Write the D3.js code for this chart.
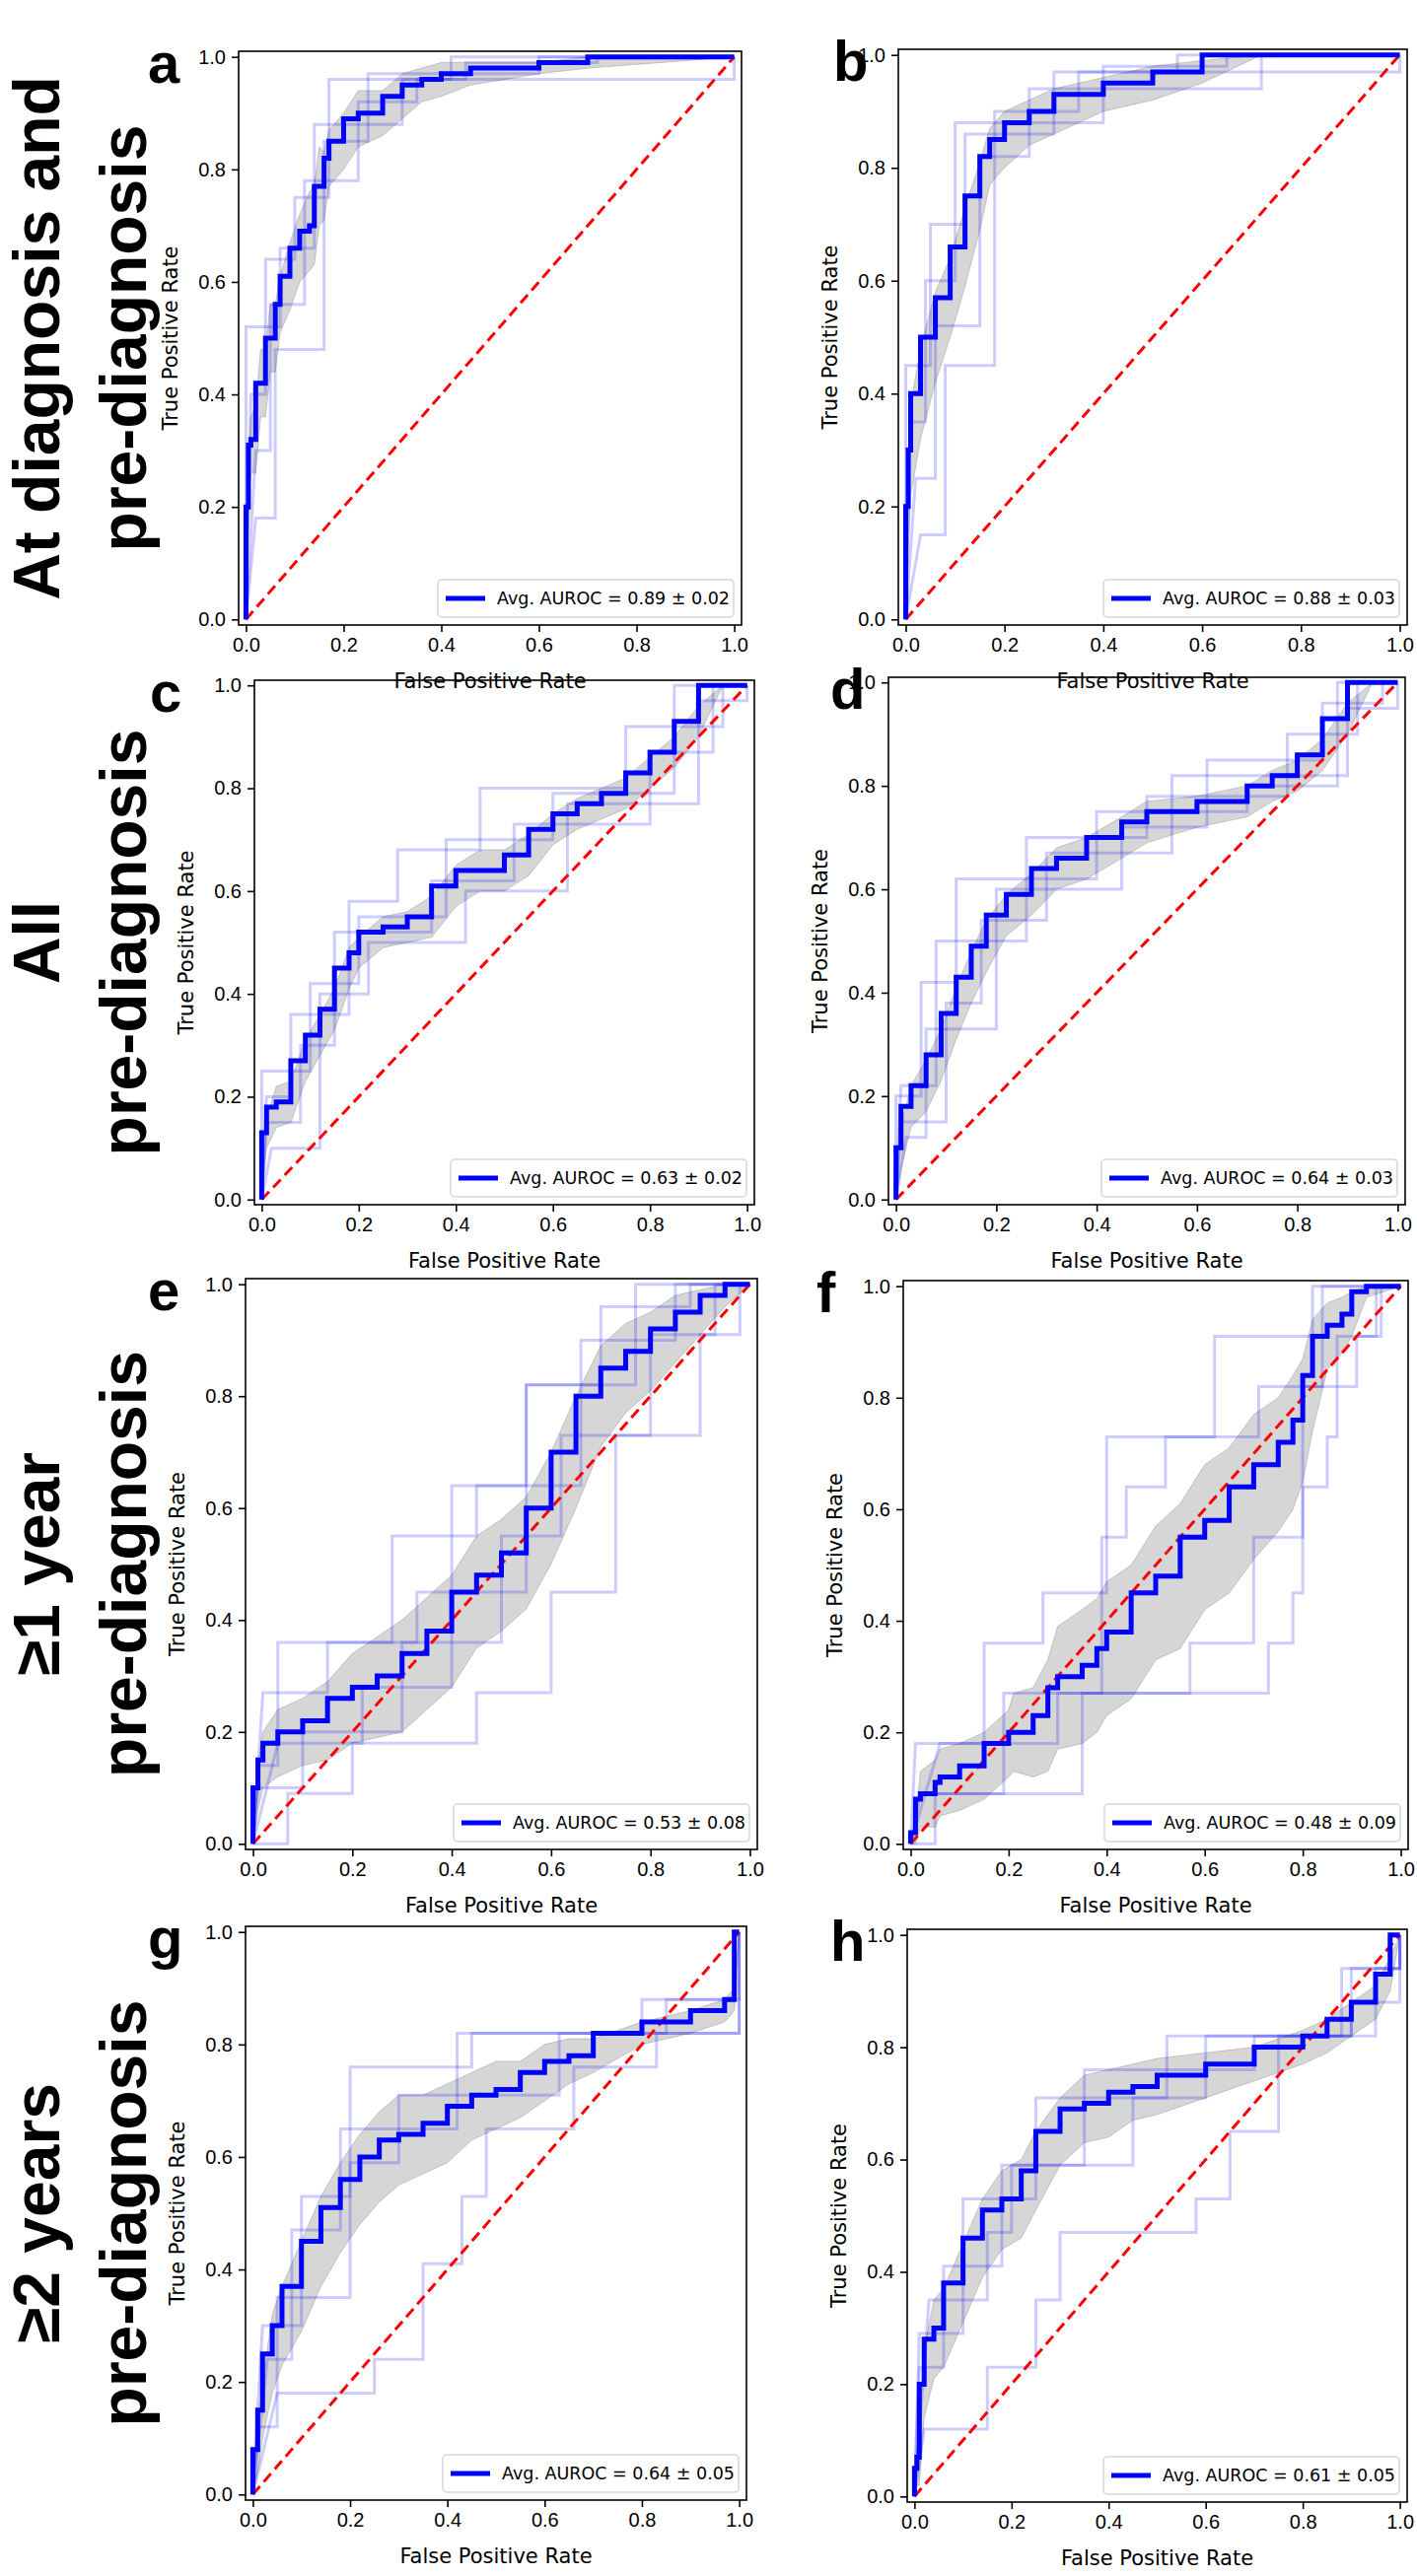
<!DOCTYPE html>
<html><head><meta charset="utf-8">
<script src="https://cdn.jsdelivr.net/npm/d3@7"></script>
<style>body{margin:0;background:#fff}svg{font-family:"DejaVu Sans",sans-serif}</style>
</head><body>
<svg id="fig" width="1437" height="2613"></svg>
<script>
// panel ids, legend texts
var panelIds = ["a","b","c","d","e","f","g","h"];
var aurocText = ["0.89 \u00b1 0.02","0.88 \u00b1 0.03","0.63 \u00b1 0.02","0.64 \u00b1 0.03",
                 "0.53 \u00b1 0.08","0.48 \u00b1 0.09","0.64 \u00b1 0.05","0.61 \u00b1 0.05"];
var rowLabels = [["At diagnosis and","pre-diagnosis"],["All","pre-diagnosis"],
                 ["\u22651 year","pre-diagnosis"],["\u22652 years","pre-diagnosis"]];
var ticks = [0,0.2,0.4,0.6,0.8,1.0];

// mean ROC: [fpr, tpr, sd]
var meanA = [[0,0,0],[0.005,0.2,0.05],[0.01,0.31,0.05],[0.02,0.32,0.06],[0.03,0.42,0.06],[0.04,0.42,0.06],[0.05,0.5,0.06],[0.06,0.5,0.06],[0.07,0.56,0.05],[0.09,0.61,0.06],[0.11,0.66,0.06],[0.13,0.69,0.07],[0.14,0.7,0.07],[0.15,0.77,0.07],[0.16,0.77,0.06],[0.17,0.82,0.05],[0.2,0.85,0.05],[0.23,0.89,0.05],[0.28,0.9,0.04],[0.32,0.93,0.04],[0.36,0.95,0.03],[0.4,0.96,0.03],[0.46,0.97,0.02],[0.6,0.98,0.01],[0.7,0.99,0.01],[0.85,1,0.01],[1,1,0]];
var meanB = [[0,0,0],[0.005,0.2,0.08],[0.01,0.3,0.08],[0.03,0.4,0.08],[0.06,0.5,0.08],[0.09,0.57,0.07],[0.12,0.66,0.07],[0.15,0.75,0.06],[0.17,0.82,0.05],[0.2,0.85,0.05],[0.25,0.88,0.04],[0.3,0.9,0.04],[0.4,0.93,0.03],[0.5,0.95,0.03],[0.6,0.97,0.02],[0.72,1,0],[1,1,0]];
var meanC = [[0,0,0],[0.01,0.13,0.03],[0.03,0.18,0.04],[0.06,0.19,0.04],[0.09,0.27,0.04],[0.12,0.32,0.04],[0.15,0.37,0.04],[0.18,0.45,0.04],[0.2,0.48,0.03],[0.25,0.52,0.03],[0.3,0.53,0.03],[0.35,0.55,0.04],[0.4,0.61,0.04],[0.45,0.64,0.04],[0.5,0.64,0.04],[0.55,0.67,0.04],[0.6,0.72,0.03],[0.65,0.75,0.03],[0.7,0.77,0.03],[0.75,0.79,0.03],[0.8,0.83,0.03],[0.85,0.87,0.03],[0.9,0.93,0.03],[0.95,1,0],[1,1,0]];
var meanD = [[0,0,0],[0.01,0.1,0.04],[0.03,0.18,0.04],[0.06,0.22,0.05],[0.09,0.28,0.05],[0.12,0.36,0.05],[0.15,0.43,0.05],[0.18,0.49,0.05],[0.22,0.55,0.04],[0.27,0.59,0.04],[0.32,0.64,0.04],[0.38,0.66,0.04],[0.45,0.7,0.04],[0.5,0.73,0.04],[0.6,0.75,0.03],[0.7,0.77,0.03],[0.75,0.8,0.03],[0.8,0.82,0.03],[0.85,0.86,0.03],[0.9,0.93,0.03],[0.95,1,0],[1,1,0]];
var meanE = [[0,0,0],[0.01,0.1,0.04],[0.02,0.15,0.05],[0.05,0.18,0.06],[0.1,0.2,0.06],[0.15,0.22,0.07],[0.2,0.26,0.08],[0.25,0.28,0.09],[0.3,0.3,0.1],[0.35,0.34,0.1],[0.4,0.38,0.1],[0.45,0.45,0.1],[0.5,0.48,0.1],[0.55,0.52,0.1],[0.6,0.6,0.1],[0.65,0.7,0.1],[0.7,0.8,0.09],[0.75,0.85,0.08],[0.8,0.88,0.07],[0.85,0.92,0.06],[0.9,0.95,0.04],[0.95,0.98,0.02],[1,1,0]];
var meanF = [[0,0,0],[0.01,0.02,0.02],[0.02,0.08,0.05],[0.05,0.09,0.06],[0.06,0.11,0.06],[0.1,0.12,0.06],[0.15,0.14,0.06],[0.2,0.18,0.06],[0.21,0.2,0.07],[0.25,0.2,0.08],[0.28,0.23,0.1],[0.3,0.28,0.11],[0.35,0.3,0.12],[0.38,0.32,0.12],[0.4,0.35,0.12],[0.45,0.38,0.12],[0.5,0.45,0.12],[0.55,0.48,0.13],[0.6,0.55,0.13],[0.65,0.58,0.13],[0.7,0.64,0.13],[0.75,0.68,0.12],[0.78,0.72,0.12],[0.8,0.76,0.11],[0.82,0.84,0.1],[0.85,0.91,0.06],[0.88,0.93,0.05],[0.9,0.95,0.04],[0.93,0.99,0.01],[1,1,0]];
var meanG = [[0,0,0],[0.01,0.08,0.04],[0.02,0.15,0.05],[0.04,0.25,0.07],[0.06,0.3,0.07],[0.1,0.37,0.08],[0.14,0.45,0.08],[0.18,0.51,0.08],[0.22,0.56,0.08],[0.26,0.6,0.08],[0.3,0.63,0.08],[0.35,0.64,0.07],[0.4,0.66,0.07],[0.45,0.69,0.06],[0.5,0.71,0.06],[0.55,0.72,0.05],[0.6,0.75,0.05],[0.65,0.77,0.04],[0.7,0.78,0.03],[0.8,0.82,0.02],[0.9,0.84,0.02],[0.97,0.86,0.02],[0.99,0.88,0.02],[1,1,0]];
var meanH = [[0,0,0],[0.005,0.05,0.03],[0.01,0.07,0.05],[0.02,0.2,0.06],[0.04,0.28,0.07],[0.06,0.3,0.07],[0.1,0.38,0.07],[0.14,0.46,0.07],[0.18,0.51,0.07],[0.22,0.53,0.07],[0.25,0.58,0.07],[0.3,0.65,0.06],[0.35,0.69,0.06],[0.4,0.7,0.06],[0.45,0.72,0.05],[0.5,0.73,0.05],[0.6,0.75,0.04],[0.7,0.77,0.03],[0.8,0.8,0.03],[0.85,0.82,0.03],[0.9,0.85,0.03],[0.95,0.88,0.03],[0.98,0.93,0.03],[1,1,0]];

// individual folds: step corners [fpr, tpr]
var foldsA = [
  [[0,0],[0,0.52],[0.07,0.52],[0.07,0.66],[0.14,0.66],[0.14,0.88],[0.32,0.88],[0.32,0.96],[0.45,0.96],[0.45,0.99],[0.72,0.99],[0.72,1],[1,1]],
  [[0,0],[0.02,0.3],[0.05,0.3],[0.05,0.56],[0.12,0.56],[0.12,0.78],[0.23,0.78],[0.23,0.92],[0.35,0.92],[0.35,0.96],[1,0.96],[1,1]],
  [[0,0],[0.01,0.4],[0.04,0.4],[0.04,0.64],[0.1,0.64],[0.1,0.75],[0.17,0.75],[0.17,0.96],[0.42,0.96],[0.42,1],[1,1]],
  [[0,0],[0.02,0.18],[0.06,0.18],[0.06,0.48],[0.16,0.48],[0.16,0.85],[0.25,0.85],[0.25,0.97],[0.6,0.97],[0.6,1],[1,1]]];
var foldsB = [
  [[0,0],[0,0.45],[0.05,0.45],[0.05,0.7],[0.12,0.7],[0.12,0.86],[0.3,0.86],[0.3,0.97],[0.55,0.97],[0.55,1],[1,1]],
  [[0,0],[0.02,0.25],[0.06,0.25],[0.06,0.52],[0.15,0.52],[0.15,0.82],[0.25,0.82],[0.25,0.94],[0.72,0.94],[0.72,1],[1,1]],
  [[0,0],[0.01,0.35],[0.04,0.35],[0.04,0.6],[0.1,0.6],[0.1,0.88],[0.4,0.88],[0.4,0.98],[0.65,0.98],[0.65,1],[1,1]],
  [[0,0],[0.03,0.15],[0.08,0.15],[0.08,0.45],[0.18,0.45],[0.18,0.9],[0.35,0.9],[0.35,0.97],[1,0.97],[1,1]]];
var foldsC = [
  [[0,0],[0,0.25],[0.1,0.25],[0.1,0.42],[0.2,0.42],[0.2,0.55],[0.38,0.55],[0.38,0.7],[0.6,0.7],[0.6,0.79],[0.85,0.79],[0.85,1],[1,1]],
  [[0,0],[0.01,0.15],[0.08,0.15],[0.08,0.3],[0.15,0.3],[0.15,0.52],[0.35,0.52],[0.35,0.62],[0.52,0.62],[0.52,0.73],[0.8,0.73],[0.8,0.87],[0.93,0.87],[0.93,1],[1,1]],
  [[0,0],[0.02,0.1],[0.12,0.1],[0.12,0.4],[0.22,0.4],[0.22,0.5],[0.42,0.5],[0.42,0.6],[0.63,0.6],[0.63,0.77],[0.9,0.77],[0.9,0.97],[1,0.97],[1,1]],
  [[0,0],[0.01,0.2],[0.06,0.2],[0.06,0.36],[0.18,0.36],[0.18,0.58],[0.28,0.58],[0.28,0.68],[0.45,0.68],[0.45,0.8],[0.75,0.8],[0.75,0.92],[0.95,0.92],[0.95,1],[1,1]]];
var foldsD = [
  [[0,0],[0,0.2],[0.05,0.2],[0.05,0.42],[0.12,0.42],[0.12,0.62],[0.4,0.62],[0.4,0.75],[0.7,0.75],[0.7,0.8],[0.88,0.8],[0.88,1],[1,1]],
  [[0,0],[0.01,0.15],[0.1,0.15],[0.1,0.38],[0.17,0.38],[0.17,0.54],[0.3,0.54],[0.3,0.67],[0.55,0.67],[0.55,0.82],[0.9,0.82],[0.9,0.95],[1,0.95],[1,1]],
  [[0,0],[0.02,0.12],[0.06,0.12],[0.06,0.33],[0.2,0.33],[0.2,0.6],[0.45,0.6],[0.45,0.72],[0.62,0.72],[0.62,0.85],[0.85,0.85],[0.85,0.96],[0.97,0.96],[0.97,1],[1,1]],
  [[0,0],[0.01,0.22],[0.08,0.22],[0.08,0.5],[0.26,0.5],[0.26,0.7],[0.5,0.7],[0.5,0.78],[0.78,0.78],[0.78,0.9],[0.92,0.9],[0.92,1],[1,1]]];
var foldsE = [
  [[0,0],[0.02,0.27],[0.15,0.27],[0.15,0.36],[0.33,0.36],[0.33,0.45],[0.55,0.45],[0.55,0.82],[0.77,0.82],[0.77,1],[1,1]],
  [[0,0],[0.01,0.1],[0.1,0.1],[0.1,0.2],[0.3,0.2],[0.3,0.36],[0.5,0.36],[0.5,0.55],[0.62,0.55],[0.62,0.73],[0.8,0.73],[0.8,0.91],[0.93,0.91],[0.93,1],[1,1]],
  [[0,0],[0.05,0.18],[0.22,0.18],[0.22,0.28],[0.4,0.28],[0.4,0.64],[0.66,0.64],[0.66,0.9],[0.85,0.9],[0.85,1],[1,1]],
  [[0,0],[0.01,0.14],[0.05,0.14],[0.05,0.36],[0.28,0.36],[0.28,0.55],[0.45,0.55],[0.45,0.64],[0.55,0.64],[0.55,0.82],[0.7,0.82],[0.7,0.96],[0.88,0.96],[0.88,1],[1,1]],
  [[0,0],[0.07,0],[0.07,0.09],[0.2,0.09],[0.2,0.18],[0.45,0.18],[0.45,0.27],[0.6,0.27],[0.6,0.45],[0.73,0.45],[0.73,0.73],[0.9,0.73],[0.9,0.91],[0.98,0.91],[0.98,1],[1,1]]];
var foldsF = [
  [[0,0],[0.01,0.18],[0.15,0.18],[0.15,0.36],[0.27,0.36],[0.27,0.45],[0.4,0.45],[0.4,0.73],[0.62,0.73],[0.62,0.91],[0.82,0.91],[0.82,1],[1,1]],
  [[0,0],[0.05,0],[0.05,0.09],[0.35,0.09],[0.35,0.27],[0.57,0.27],[0.57,0.36],[0.7,0.36],[0.7,0.55],[0.8,0.55],[0.8,0.82],[0.91,0.82],[0.91,0.91],[0.96,0.91],[0.96,1],[1,1]],
  [[0,0],[0.02,0.09],[0.19,0.09],[0.19,0.27],[0.39,0.27],[0.39,0.55],[0.44,0.55],[0.44,0.64],[0.52,0.64],[0.52,0.73],[0.71,0.73],[0.71,0.82],[0.84,0.82],[0.84,1],[1,1]],
  [[0,0],[0.06,0.18],[0.3,0.18],[0.3,0.27],[0.73,0.27],[0.73,0.36],[0.78,0.36],[0.78,0.45],[0.8,0.45],[0.8,0.64],[0.85,0.64],[0.85,0.73],[0.87,0.73],[0.87,0.91],[0.95,0.91],[0.95,1],[1,1]]];
var foldsG = [
  [[0,0],[0.03,0.24],[0.08,0.24],[0.08,0.47],[0.18,0.47],[0.18,0.65],[0.42,0.65],[0.42,0.82],[0.85,0.82],[0.85,0.88],[0.99,0.88],[0.99,1],[1,1]],
  [[0,0],[0.01,0.12],[0.05,0.12],[0.05,0.35],[0.2,0.35],[0.2,0.59],[0.3,0.59],[0.3,0.71],[0.63,0.71],[0.63,0.82],[1,0.82],[1,1]],
  [[0,0],[0.05,0.18],[0.25,0.18],[0.25,0.24],[0.35,0.24],[0.35,0.41],[0.43,0.41],[0.43,0.53],[0.48,0.53],[0.48,0.65],[0.66,0.65],[0.66,0.76],[0.83,0.76],[0.83,0.82],[1,0.82],[1,1]],
  [[0,0],[0.02,0.3],[0.1,0.3],[0.1,0.53],[0.2,0.53],[0.2,0.76],[0.45,0.76],[0.45,0.82],[0.8,0.82],[0.8,0.88],[1,0.88],[1,1]]];
var foldsH = [
  [[0,0],[0.01,0.23],[0.06,0.23],[0.06,0.41],[0.18,0.41],[0.18,0.59],[0.45,0.59],[0.45,0.71],[0.6,0.71],[0.6,0.82],[0.95,0.82],[0.95,0.94],[1,0.94],[1,1]],
  [[0,0],[0.02,0.12],[0.15,0.12],[0.15,0.23],[0.25,0.23],[0.25,0.35],[0.3,0.35],[0.3,0.47],[0.58,0.47],[0.58,0.53],[0.65,0.53],[0.65,0.65],[0.75,0.65],[0.75,0.82],[0.9,0.82],[0.9,0.94],[1,0.94],[1,1]],
  [[0,0],[0.01,0.29],[0.1,0.29],[0.1,0.53],[0.25,0.53],[0.25,0.71],[0.52,0.71],[0.52,0.82],[0.9,0.82],[0.9,0.88],[1,0.88],[1,1]],
  [[0,0],[0.03,0.35],[0.15,0.35],[0.15,0.47],[0.2,0.47],[0.2,0.59],[0.35,0.59],[0.35,0.76],[0.7,0.76],[0.7,0.82],[0.88,0.82],[0.88,0.94],[1,0.94],[1,1]]];

var means = [meanA,meanB,meanC,meanD,meanE,meanF,meanG,meanH];
var folds = [foldsA,foldsB,foldsC,foldsD,foldsE,foldsF,foldsG,foldsH];

// axes boxes [left, top, right, bottom] and panel letter x
var boxes = [[242,52,752,634],[911,50,1427,634],[258,690,765,1222],[901,687,1425,1222],
             [249,1297,768,1876],[916,1299,1428,1876],[249,1954,757,2536],[920,1957,1427,2538]];
var letterX = [150,845,152,842,150,828,150,842];

var svg = d3.select("#fig");

rowLabels.forEach(function (lines, r) {
    var cy = (boxes[r*2][1] + boxes[r*2][3]) / 2;
    var t = svg.append("text")
        .attr("transform", "translate(60," + cy + ") rotate(-90)")
        .attr("text-anchor", "middle")
        .attr("font-family", "Liberation Sans, Arial, sans-serif")
        .attr("font-weight", "bold")
        .attr("font-size", 66);
    t.append("tspan").attr("x", 0).attr("y", 0).text(lines[0]);
    t.append("tspan").attr("x", 0).attr("y", 88).text(lines[1]);
});

panelIds.forEach(function (id, i) {
    var b = boxes[i];
    var x = d3.scaleLinear().domain([-0.015, 1.015]).range([b[0], b[2]]);
    var y = d3.scaleLinear().domain([-0.01, 1.01]).range([b[3], b[1]]);
    var g = svg.append("g");

    var m = means[i];
    var area = d3.area()
        .x(function (d) { return x(d[0]); })
        .y0(function (d) { return y(Math.max(0, d[1] - d[2])); })
        .y1(function (d) { return y(Math.min(1, d[1] + d[2])); });
    g.append("path").datum(m).attr("d", area)
        .attr("fill", "#c8c8c8").attr("fill-opacity", 0.75)
        .attr("stroke", "#999").attr("stroke-opacity", 0.5).attr("stroke-width", 1);

    var line = d3.line().x(function (d) { return x(d[0]); }).y(function (d) { return y(d[1]); });
    folds[i].forEach(function (f) {
        g.append("path").datum(f).attr("d", line)
            .attr("fill", "none").attr("stroke", "#0000ff").attr("stroke-opacity", 0.2)
            .attr("stroke-width", 3);
    });

    g.append("path").datum([[0,0],[1,1]]).attr("d", line)
        .attr("fill", "none").attr("stroke", "#ff0000").attr("stroke-width", 3)
        .attr("stroke-dasharray", "11,6");

    g.append("path").datum(m).attr("d", line.curve(d3.curveStepBefore))
        .attr("fill", "none").attr("stroke", "#0000ff").attr("stroke-width", 5);
    line.curve(d3.curveLinear);

    g.append("rect").attr("x", b[0]).attr("y", b[1])
        .attr("width", b[2] - b[0]).attr("height", b[3] - b[1])
        .attr("fill", "none").attr("stroke", "#000").attr("stroke-width", 1.6);

    var ax = g.append("g").attr("transform", "translate(0," + b[3] + ")")
        .call(d3.axisBottom(x).tickValues(ticks).tickFormat(d3.format(".1f")).tickSize(7).tickPadding(6));
    var ay = g.append("g").attr("transform", "translate(" + b[0] + ",0)")
        .call(d3.axisLeft(y).tickValues(ticks).tickFormat(d3.format(".1f")).tickSize(7).tickPadding(6));
    [ax, ay].forEach(function (a) {
        a.select(".domain").remove();
        a.selectAll("line").attr("stroke-width", 1.6);
        a.selectAll("text").attr("font-size", 20).attr("fill", "#000");
    });

    g.append("text").attr("x", (b[0] + b[2]) / 2).attr("y", b[3] + 64)
        .attr("text-anchor", "middle").attr("font-size", 21).text("False Positive Rate");
    g.append("text")
        .attr("transform", "translate(" + (b[0] - 62) + "," + ((b[1] + b[3]) / 2) + ") rotate(-90)")
        .attr("text-anchor", "middle").attr("font-size", 21).text("True Positive Rate");

    svg.append("text").attr("x", letterX[i]).attr("y", b[1] + 32)
        .attr("font-family", "Liberation Sans, Arial, sans-serif")
        .attr("font-weight", "bold").attr("font-size", 58).text(id);

    var lw = 300, lh = 38;
    var lx = b[2] - 8 - lw, ly = b[3] - 8 - lh;
    g.append("rect").attr("x", lx).attr("y", ly).attr("width", lw).attr("height", lh)
        .attr("rx", 4).attr("fill", "#fff").attr("fill-opacity", 0.85)
        .attr("stroke", "#d6d6d6").attr("stroke-width", 1.5);
    g.append("line").attr("x1", lx + 8).attr("x2", lx + 48)
        .attr("y1", ly + lh / 2).attr("y2", ly + lh / 2)
        .attr("stroke", "#0000ff").attr("stroke-width", 5);
    g.append("text").attr("x", lx + 60).attr("y", ly + lh / 2 + 6)
        .attr("font-size", 17.5).text("Avg. AUROC = " + aurocText[i]);
});
</script>
</body></html>
